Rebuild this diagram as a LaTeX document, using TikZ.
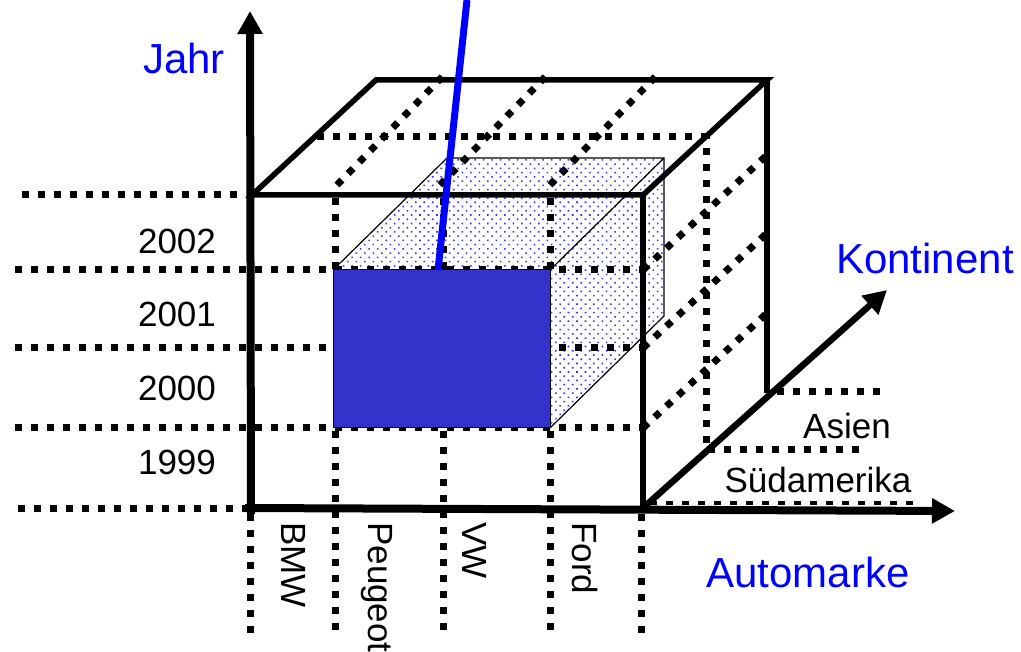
\documentclass[tikz,border=0pt]{standalone}
\usepackage{fontspec}
\setmainfont{Liberation Sans}
\usetikzlibrary{arrows.meta, patterns.meta}
\definecolor{cellblue}{RGB}{51,51,204}
\definecolor{labelblue}{RGB}{0,0,255}
\tikzset{
	grid dots/.style = {line width=7pt, dash pattern=on 7pt off 9pt},
	cube edge/.style = {line width=5.5pt, line join=miter},
	axis arrow/.style = {line width=8pt, -{Triangle[width=24pt, length=23pt]}},
	black label/.style = {font=\fontsize{35}{40}\selectfont, inner sep=0pt},
	blue label/.style = {font=\fontsize{42}{48}\selectfont, text=labelblue, inner sep=0pt}
}

\begin{document}
\begin{tikzpicture}[x=1pt, y=-1pt]
	\useasboundingbox (0,0) rectangle (1021,652);

	\coordinate (origin) at (251,508);
	\coordinate (jahr tip) at (250,11);
	\coordinate (marke tip) at (955,511);
	\coordinate (fbr) at (643,508);
	\coordinate (kont tip) at (887,290);
	\coordinate (ftl) at (252,195);
	\coordinate (ftr) at (643,195);
	\coordinate (btl) at (376,80);
	\coordinate (btr) at (767,80);
	\coordinate (bbr) at (767,393);

	\coordinate (cftl) at (333,270);
	\coordinate (cfbr) at (550,428);
	\coordinate (cftr) at (550,270);
	\coordinate (cbtl) at (447,158);
	\coordinate (cbtr) at (664,158);
	\coordinate (cbbr) at (664,316);
	\coordinate (query) at (438,270);
	\coordinate (query end) at (467,0);

	\fill [pattern={Dots[distance=6pt, radius=1.1pt, angle=45]}, pattern color=labelblue!80]
		(cftl) -- (cbtl) -- (cbtr) -- (cbbr) -- (cfbr) -- (cftr) -- cycle;

	\draw [grid dots] (22,195) -- (245,195);
	\draw [grid dots] (18,508) -- (245,508);
	\foreach \y in {270,348,428}
	{
		\draw [grid dots] (15,\y) -- (643,\y);
		\draw [grid dots] (643,\y) -- ++(124,-115);
	}
	\foreach \x in {337,440,550}
	{
		\draw [grid dots] (\x,185) -- ++(110,-113);
	}
	\foreach \x in {335,443,550}
	{
		\draw [grid dots] (\x,198) -- (\x,270);
		\draw [grid dots] (\x,431) -- (\x,630);
	}
	\foreach \x in {250,641}
	{
		\draw [grid dots] (\x,514) -- (\x,633);
	}
	\draw [grid dots] (317,137) -- (706,137) -- (706,450) -- (865,450);
	\draw [grid dots] (777,392) -- (887,392);

	\draw [fill=cellblue, line width=1pt] (cftl) rectangle (cfbr);
	\draw [line width=1.2pt] (cftl) -- (cbtl) -- (cbtr) -- (cbbr) -- (cfbr);
	\draw [line width=1.2pt] (cftr) -- (cbtr);

	\draw [cube edge] (ftl) -- (btl) -- (btr) -- (ftr) -- cycle;
	\draw [cube edge] (ftr) -- (fbr);
	\draw [cube edge] (btr) -- (bbr);

	\begin{scope}[axis arrow]
		\draw (251,514) -- (jahr tip);
		\draw (245,508) -- (marke tip);
		\draw [line width=6.5pt] (fbr) -- (kont tip);
	\end{scope}
	\draw [grid dots, line width=4pt] (650,503) -- (918,503);

	\draw [line width=7pt, labelblue] (query) -- (query end);

	\node [blue label] (jahr) at (184,58) {Jahr};
	\node [blue label] (kontinent) at (925,258) {Kontinent};
	\node [blue label] (automarke) at (808,572) {Automarke};

	\foreach \y/\year in {241/2002, 314/2001, 388/2000, 462/1999}
	{
		\node [black label] (year \year) at (177,\y) {\year};
	}
	\node [black label] (asien) at (847,426) {Asien};
	\node [black label] (suedamerika) at (818,480) {Südamerika};

	\foreach \x/\brand in {294/BMW, 377/Peugeot, 475/VW, 585/Ford}
	{
		\node [black label, rotate=-90, anchor=west] (brand \brand) at (\x,522) {\brand};
	}
\end{tikzpicture}
\end{document}
